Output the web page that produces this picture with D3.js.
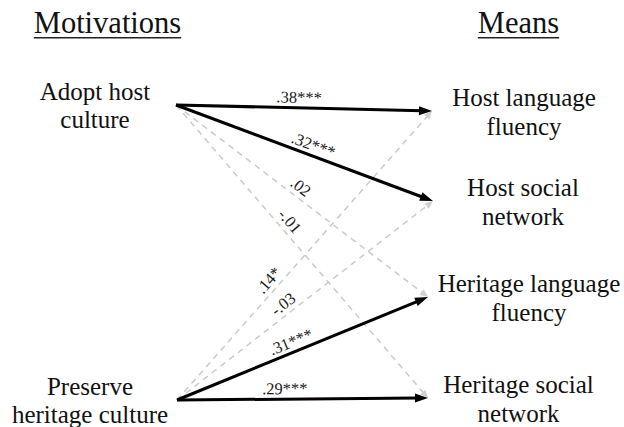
<!DOCTYPE html>
<html>
<head>
<meta charset="utf-8">
<script src="https://cdn.jsdelivr.net/npm/d3@7"></script>
<style>
  html, body { margin: 0; padding: 0; background: #fff; }
  svg { display: block; }
</style>
</head>
<body>
<svg id="chart" width="624" height="427"></svg>
<script>
// ---- data ----
const headings = ["Motivations", "Means"];
const motivations = ["Adopt host culture", "Preserve heritage culture"];
const motivationLines = [["Adopt host", "culture"], ["Preserve", "heritage culture"]];
const means = ["Host language fluency", "Host social network", "Heritage language fluency", "Heritage social network"];
const meansLines = [["Host language", "fluency"], ["Host social", "network"], ["Heritage language", "fluency"], ["Heritage social", "network"]];
const pathFrom = [0, 0, 0, 0, 1, 1, 1, 1];
const pathTo   = [0, 1, 2, 3, 0, 1, 2, 3];
const coefLabels = [".38***", ".32***", ".02", "-.01", ".14*", "-.03", ".31***", ".29***"];
const solidPath = [true, true, false, false, false, false, true, true];
// fraction along each path where its coefficient is written
const labelAt = [0.48, 0.52, 0.47, 0.42, 0.39, 0.44, 0.47, 0.43];

// ---- layout ----
const FONT = "'Liberation Serif', 'Times New Roman', serif";
const svg = d3.select("#chart");
const srcX = d3.scaleOrdinal().domain(motivations).range([176, 177]);
const srcY = d3.scaleOrdinal().domain(motivations).range([105, 400]);
const srcLabelX = d3.scaleOrdinal().domain(motivations).range([95, 90]);
const tgtX = d3.scaleOrdinal().domain(means).range([432, 433, 428, 428]);
const tgtY = d3.scaleOrdinal().domain(means).range([111, 201, 297, 398]);
const tgtLabelX = d3.scaleOrdinal().domain(means).range([524, 523, 529, 518.5]);
const headX = d3.scaleOrdinal().domain(headings).range([107.5, 518.5]);

// headings with underline
headings.forEach(h => {
  const t = svg.append("text")
    .attr("x", headX(h)).attr("y", 33)
    .attr("text-anchor", "middle")
    .attr("font-family", FONT)
    .attr("font-size", 30.5)
    .attr("fill", "#111")
    .text(h);
  const w = t.node().getComputedTextLength();
  svg.append("line")
    .attr("x1", headX(h) - w / 2).attr("x2", headX(h) + w / 2)
    .attr("y1", 37.8).attr("y2", 37.8)
    .attr("stroke", "#222").attr("stroke-width", 1.6);
});

const paths = coefLabels.map((lab, i) => {
  const s = motivations[pathFrom[i]], e = means[pathTo[i]];
  return { lab, solid: solidPath[i], at: labelAt[i],
    x1: srcX(s), y1: srcY(s), x2: tgtX(e), y2: tgtY(e) };
});

function arrowHead(p, len, half) {
  const dx = p.x2 - p.x1, dy = p.y2 - p.y1, L = Math.hypot(dx, dy);
  const ux = dx / L, uy = dy / L, nx = -uy, ny = ux;
  const bx = p.x2 - ux * len, by = p.y2 - uy * len;
  return `M${p.x2},${p.y2}L${bx + nx * half},${by + ny * half}L${bx - nx * half},${by - ny * half}Z`;
}
function shortened(p, len) {
  const dx = p.x2 - p.x1, dy = p.y2 - p.y1, L = Math.hypot(dx, dy);
  return { x: p.x2 - dx / L * len, y: p.y2 - dy / L * len };
}

const order = paths.slice().sort((a, b) => (a.solid ? 1 : 0) - (b.solid ? 1 : 0));
const g = svg.append("g");
order.forEach(p => {
  if (p.solid) {
    const e = shortened(p, 10);
    g.append("line").attr("x1", p.x1).attr("y1", p.y1).attr("x2", e.x).attr("y2", e.y)
      .attr("stroke", "#000").attr("stroke-width", 3);
    g.append("path").attr("d", arrowHead(p, 13, 4.5)).attr("fill", "#000");
  } else {
    const e = shortened(p, 6);
    g.append("line").attr("x1", p.x1).attr("y1", p.y1).attr("x2", e.x).attr("y2", e.y)
      .attr("stroke", "#cacaca").attr("stroke-width", 1.5)
      .attr("stroke-dasharray", "6,5");
    g.append("path").attr("d", arrowHead(p, 8, 3.5)).attr("fill", "#d0d0d0");
  }
});

// coefficient labels
paths.forEach(p => {
  const x = p.x1 + (p.x2 - p.x1) * p.at, y = p.y1 + (p.y2 - p.y1) * p.at;
  const ang = Math.atan2(p.y2 - p.y1, p.x2 - p.x1) * 180 / Math.PI;
  svg.append("text")
    .attr("transform", `translate(${x},${y}) rotate(${ang})`)
    .attr("y", -5)
    .attr("text-anchor", "middle")
    .attr("font-family", FONT)
    .attr("font-size", 16.5)
    .attr("fill", "#1a1a1a")
    .text(p.lab);
});

// motivation node labels
motivations.forEach((m, i) => {
  const t = svg.append("text").attr("text-anchor", "middle")
    .attr("font-family", FONT).attr("font-size", 25).attr("fill", "#111");
  motivationLines[i].forEach((ln, j) =>
    t.append("tspan").attr("x", srcLabelX(m)).attr("y", srcY(m) - 5 + j * 28).text(ln));
});

// means node labels
means.forEach((m, i) => {
  const t = svg.append("text").attr("text-anchor", "middle")
    .attr("font-family", FONT).attr("font-size", 25).attr("fill", "#111");
  meansLines[i].forEach((ln, j) =>
    t.append("tspan").attr("x", tgtLabelX(m)).attr("y", tgtY(m) - 5.5 + j * 29.5).text(ln));
});
</script>
</body>
</html>
